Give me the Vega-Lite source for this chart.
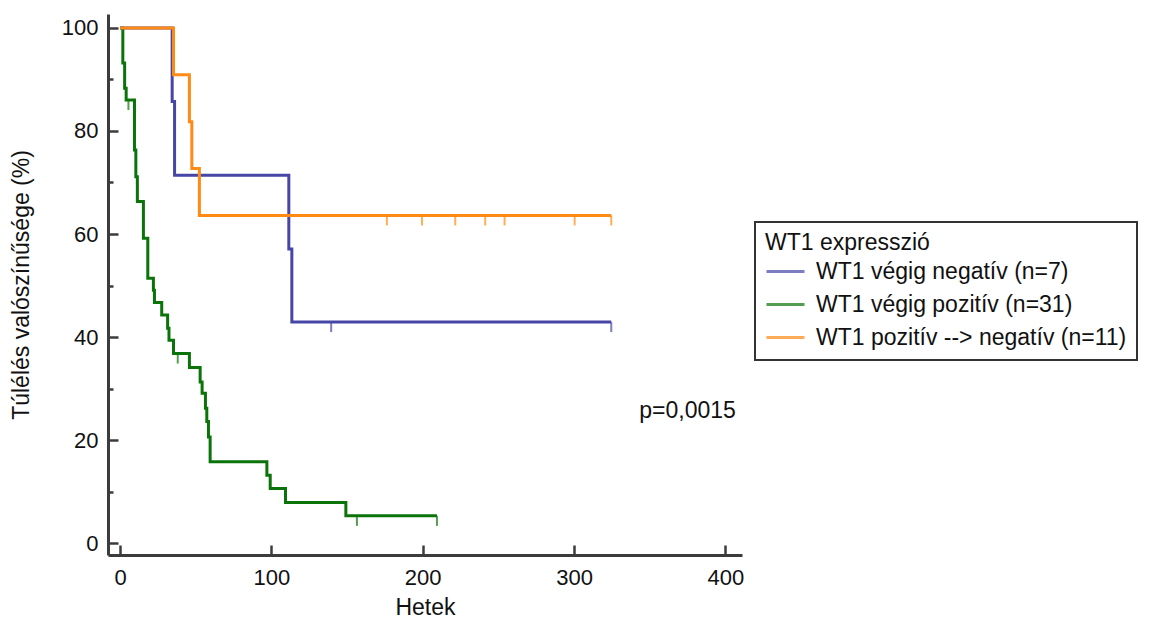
{
  "$schema": "https://vega.github.io/schema/vega-lite/v6.json",
  "width": 634,
  "height": 541,
  "autosize": {"type": "none"},
  "padding": {"left": 108, "top": 14, "right": 423, "bottom": 64},
  "background": "white",
  "config": {
    "font": "Liberation Sans",
    "view": {"stroke": null},
    "axis": {
      "grid": false,
      "domainColor": "#3c3c3c",
      "domainWidth": 3,
      "tickColor": "#3c3c3c",
      "tickWidth": 2.5,
      "labelColor": "#111111",
      "labelFontSize": 22,
      "titleColor": "#111111",
      "titleFontSize": 23,
      "titleFontWeight": "normal"
    },
    "legend": {"strokeWidth": 2}
  },
  "datasets": {
    "curves": [
      {"group": "WT1 végig pozitív (n=31)", "weeks": 0, "survival": 100},
      {"group": "WT1 végig pozitív (n=31)", "weeks": 1.8, "survival": 93.2},
      {"group": "WT1 végig pozitív (n=31)", "weeks": 3, "survival": 88.3},
      {"group": "WT1 végig pozitív (n=31)", "weeks": 4, "survival": 86.0},
      {"group": "WT1 végig pozitív (n=31)", "weeks": 9.5, "survival": 76.3},
      {"group": "WT1 végig pozitív (n=31)", "weeks": 10.4, "survival": 71.1},
      {"group": "WT1 végig pozitív (n=31)", "weeks": 11.4, "survival": 66.3},
      {"group": "WT1 végig pozitív (n=31)", "weeks": 15.4, "survival": 59.2},
      {"group": "WT1 végig pozitív (n=31)", "weeks": 18.3, "survival": 51.4},
      {"group": "WT1 végig pozitív (n=31)", "weeks": 22, "survival": 49.1},
      {"group": "WT1 végig pozitív (n=31)", "weeks": 22.7, "survival": 46.7},
      {"group": "WT1 végig pozitív (n=31)", "weeks": 27.5, "survival": 44.3},
      {"group": "WT1 végig pozitív (n=31)", "weeks": 31.4, "survival": 41.7},
      {"group": "WT1 végig pozitív (n=31)", "weeks": 32.3, "survival": 39.4},
      {"group": "WT1 végig pozitív (n=31)", "weeks": 35.3, "survival": 36.8},
      {"group": "WT1 végig pozitív (n=31)", "weeks": 45.8, "survival": 34.1},
      {"group": "WT1 végig pozitív (n=31)", "weeks": 52.9, "survival": 31.3},
      {"group": "WT1 végig pozitív (n=31)", "weeks": 54.2, "survival": 29.1},
      {"group": "WT1 végig pozitív (n=31)", "weeks": 56.4, "survival": 26.2},
      {"group": "WT1 végig pozitív (n=31)", "weeks": 57.3, "survival": 23.6},
      {"group": "WT1 végig pozitív (n=31)", "weeks": 58.4, "survival": 20.6},
      {"group": "WT1 végig pozitív (n=31)", "weeks": 59.5, "survival": 15.8},
      {"group": "WT1 végig pozitív (n=31)", "weeks": 97, "survival": 13.2},
      {"group": "WT1 végig pozitív (n=31)", "weeks": 99.2, "survival": 10.6},
      {"group": "WT1 végig pozitív (n=31)", "weeks": 109.3, "survival": 7.9},
      {"group": "WT1 végig pozitív (n=31)", "weeks": 149.2, "survival": 5.3},
      {"group": "WT1 végig pozitív (n=31)", "weeks": 209.4, "survival": 5.3},
      {"group": "WT1 végig negatív (n=7)", "weeks": 0, "survival": 100},
      {"group": "WT1 végig negatív (n=7)", "weeks": 34.4, "survival": 85.7},
      {"group": "WT1 végig negatív (n=7)", "weeks": 36, "survival": 71.4},
      {"group": "WT1 végig negatív (n=7)", "weeks": 111.5, "survival": 57.1},
      {"group": "WT1 végig negatív (n=7)", "weeks": 113.5, "survival": 42.9},
      {"group": "WT1 végig negatív (n=7)", "weeks": 324.6, "survival": 42.9},
      {"group": "WT1 pozitív --> negatív (n=11)", "weeks": 0, "survival": 100},
      {"group": "WT1 pozitív --> negatív (n=11)", "weeks": 35.3, "survival": 90.9},
      {"group": "WT1 pozitív --> negatív (n=11)", "weeks": 45.8, "survival": 81.8},
      {"group": "WT1 pozitív --> negatív (n=11)", "weeks": 47.4, "survival": 72.7},
      {"group": "WT1 pozitív --> negatív (n=11)", "weeks": 52.4, "survival": 63.6},
      {"group": "WT1 pozitív --> negatív (n=11)", "weeks": 324.6, "survival": 63.6}
    ],
    "censored": [
      {"group": "WT1 végig pozitív (n=31)", "weeks": 5.5, "survival": 86.0},
      {"group": "WT1 végig pozitív (n=31)", "weeks": 38.1, "survival": 36.8},
      {"group": "WT1 végig pozitív (n=31)", "weeks": 156.5, "survival": 5.3},
      {"group": "WT1 végig pozitív (n=31)", "weeks": 209.4, "survival": 5.3},
      {"group": "WT1 végig negatív (n=7)", "weeks": 139.5, "survival": 42.9},
      {"group": "WT1 végig negatív (n=7)", "weeks": 324.6, "survival": 42.9},
      {"group": "WT1 pozitív --> negatív (n=11)", "weeks": 176.3, "survival": 63.6},
      {"group": "WT1 pozitív --> negatív (n=11)", "weeks": 199.5, "survival": 63.6},
      {"group": "WT1 pozitív --> negatív (n=11)", "weeks": 221.5, "survival": 63.6},
      {"group": "WT1 pozitív --> negatív (n=11)", "weeks": 241.3, "survival": 63.6},
      {"group": "WT1 pozitív --> negatív (n=11)", "weeks": 254.1, "survival": 63.6},
      {"group": "WT1 pozitív --> negatív (n=11)", "weeks": 300.4, "survival": 63.6},
      {"group": "WT1 pozitív --> negatív (n=11)", "weeks": 324.6, "survival": 63.6}
    ],
    "notes": [
      {"weeks": 375, "survival": 25.6, "label": "p=0,0015"}
    ]
  },
  "layer": [
    {
      "data": {"name": "curves"},
      "mark": {"type": "line", "interpolate": "step-after", "strokeWidth": 3},
      "encoding": {
        "x": {
          "field": "weeks",
          "type": "quantitative",
          "title": "Hetek",
          "scale": {"domain": [-8, 411], "nice": false, "zero": false},
          "axis": {
            "values": [0, 100, 200, 300, 400],
            "tickSize": -10,
            "labelPadding": 22,
            "titlePadding": 8
          }
        },
        "y": {
          "field": "survival",
          "type": "quantitative",
          "title": "Túlélés valószínűsége (%)",
          "scale": {"domain": [-2.3, 102.7], "nice": false, "zero": false},
          "axis": {
            "values": [0, 10, 20, 30, 40, 50, 60, 70, 80, 90, 100],
            "labelExpr": "datum.value % 20 === 0 ? datum.label : ''",
            "tickSize": {"condition": {"test": {"field": "value", "oneOf": [0, 20, 40, 60, 80, 100]}, "value": -10}, "value": -5},
            "labelPadding": 20,
            "titlePadding": 28
          }
        },
        "color": {
          "field": "group",
          "type": "nominal",
          "scale": {
            "domain": ["WT1 végig negatív (n=7)", "WT1 végig pozitív (n=31)", "WT1 pozitív --> negatív (n=11)"],
            "range": ["#4646a6", "#0a740a", "#ff8a14"]
          },
          "legend": {
            "title": "WT1 expresszió",
            "orient": "none",
            "legendX": 647,
            "legendY": 208,
            "titleFontSize": 23,
            "titleFontWeight": "normal",
            "titleColor": "#111111",
            "titlePadding": -4,
            "labelFontSize": 23,
            "labelColor": "#111111",
            "labelOffset": 10,
            "labelLimit": 500,
            "symbolType": "stroke",
            "symbolSize": 1444,
            "symbolStrokeWidth": 3,
            "rowPadding": -22,
            "padding": 10,
            "strokeColor": "#333333"
          }
        }
      }
    },
    {
      "data": {"name": "censored"},
      "mark": {"type": "tick", "orient": "vertical", "size": 10, "thickness": 2, "yOffset": 5},
      "encoding": {
        "x": {"field": "weeks", "type": "quantitative"},
        "y": {"field": "survival", "type": "quantitative"},
        "color": {"field": "group", "type": "nominal"}
      }
    },
    {
      "data": {"name": "notes"},
      "mark": {"type": "text", "fontSize": 23, "align": "center", "baseline": "middle", "color": "#111111"},
      "encoding": {
        "x": {"field": "weeks", "type": "quantitative"},
        "y": {"field": "survival", "type": "quantitative"},
        "text": {"field": "label"}
      }
    }
  ]
}
